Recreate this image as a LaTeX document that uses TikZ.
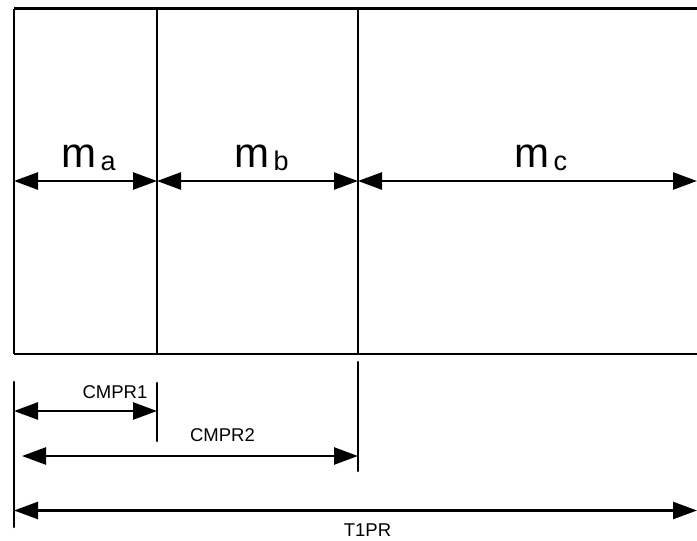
\documentclass[tikz,border=0pt]{standalone}
\usepackage{fontspec}
\setmainfont{Liberation Sans}
\usetikzlibrary{arrows.meta}
\begin{document}
\begin{tikzpicture}[x=1pt,y=-1pt,
  frame/.style={line width=2.5pt},
  dim/.style={line width=2.5pt,{Triangle[length=24pt,width=17pt]}-{Triangle[length=24pt,width=17pt]}},
  big/.style={anchor=base west,inner sep=0pt,font=\fontsize{42}{42}\selectfont},
  small/.style={anchor=base,inner sep=0pt,font=\fontsize{18.5}{20}\selectfont}]
\useasboundingbox (0,0) rectangle (697,541);
% frame coordinates
\coordinate (TL) at (14,8.5);
\coordinate (TR) at (697,8.5);
\coordinate (BL) at (14,354);
\coordinate (BR) at (697,354);
\coordinate (D1t) at (157,8.5);
\coordinate (D1b) at (157,354);
\coordinate (D2t) at (358,8.5);
\coordinate (D2b) at (358,354);
\draw[frame] (TL) -- (TR);
\draw[frame] (BL) -- (BR);
\draw[frame] (TL) -- (BL);
\draw[frame] (D1t) -- (D1b);
\draw[frame] (D2t) -- (D2b);
% mass arrows
\coordinate (A0) at (14,181);
\coordinate (A1) at (157,181);
\coordinate (A2) at (358,181);
\coordinate (A3) at (697,181);
\draw[dim] (A0) -- (A1);
\draw[dim] (A1) -- (A2);
\draw[dim] (A2) -- (A3);
\node[big] (ma) at (61.5,167) {m\hspace{4pt}\raisebox{-3pt}{\fontsize{27}{27}\selectfont a}};
\node[big] (mb) at (234.5,167) {m\hspace{4pt}\raisebox{-3pt}{\fontsize{27}{27}\selectfont b}};
\node[big] (mc) at (514.5,167) {m\hspace{4pt}\raisebox{-3pt}{\fontsize{27}{27}\selectfont c}};
% lower dimension ticks
\coordinate (L0t) at (14,382);
\coordinate (L0b) at (14,527);
\coordinate (L1t) at (157,383);
\coordinate (L1b) at (157,441);
\coordinate (L2t) at (358,362);
\coordinate (L2b) at (358,471);
\draw[line width=2.5pt,line cap=round] (L0t) -- (L0b);
\draw[line width=2.5pt,line cap=round] (L1t) -- (L1b);
\draw[line width=2.5pt,line cap=round] (L2t) -- (L2b);
% lower arrows
\coordinate (C1a) at (14,411);
\coordinate (C1b) at (157,411);
\coordinate (C2a) at (22,456);
\coordinate (C2b) at (358,456);
\coordinate (T1a) at (14,510.5);
\coordinate (T1b) at (697,510.5);
\draw[dim] (C1a) -- (C1b);
\draw[dim] (C2a) -- (C2b);
\draw[dim] (T1a) -- (T1b);
\node[small] (cmpr1) at (115,398.3) {CMPR1};
\node[small] (cmpr2) at (222.5,441.5) {CMPR2};
\node[small] (t1pr) at (367.5,536.7) {T1PR};
\end{tikzpicture}
\end{document}
